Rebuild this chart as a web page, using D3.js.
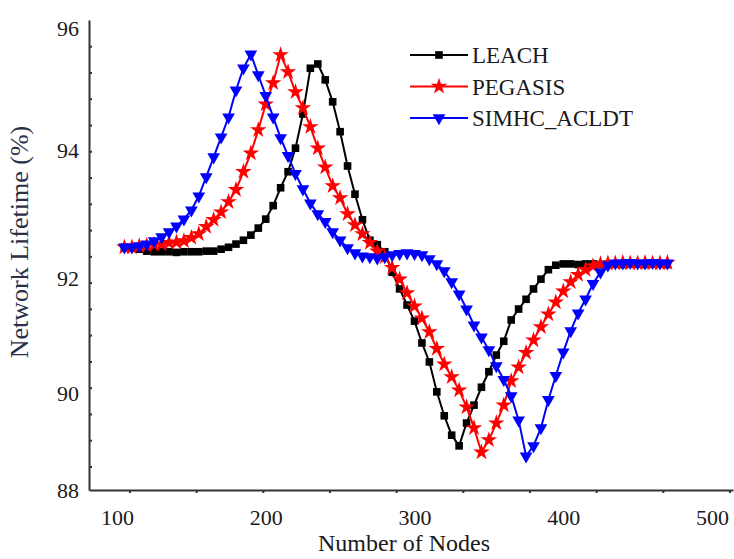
<!DOCTYPE html>
<html lang="en">
<head>
    <meta charset="UTF-8">
    <title>Network Lifetime</title>
    <style>
        body { margin: 0; background: #ffffff; }
        text { font-family: "Liberation Serif", "DejaVu Serif", serif; }
    </style>
    <script src="https://d3js.org/d3.v7.min.js"></script>
</head>
<body>
    <script>
    // number of nodes (x values)
    const nodes = [105,110,115,120,125,130,135,140,145,150,155,160,165,170,175,180,185,190,195,200,
        205,210,215,220,225,230,235,240,245,250,255,260,265,270,275,280,285,290,295,300,
        305,310,315,320,325,330,335,340,345,350,355,360,365,370,375,380,385,390,395,400,
        405,410,415,420,425,430,435,440,445,450,455,460,465,470];

    // network lifetime (%)
    const leach = [92.48,92.47,92.45,92.42,92.41,92.41,92.41,92.40,92.41,92.41,
        92.41,92.42,92.42,92.45,92.48,92.53,92.59,92.67,92.78,92.92,
        93.13,93.41,93.66,94.03,94.59,95.34,95.41,95.15,94.79,94.30,
        93.75,93.31,92.91,92.59,92.52,92.41,92.09,91.81,91.53,91.25,
        90.87,90.54,90.02,89.53,89.13,88.91,89.38,89.75,90.10,90.37,
        90.66,90.90,91.27,91.46,91.63,91.81,91.98,92.13,92.20,92.22,
        92.22,92.21,92.22,92.22,92.21,92.22,92.22,92.21,92.22,92.22,
        92.21,92.22,92.22,92.21];

    const pegasis = [92.48,92.48,92.50,92.51,92.52,92.53,92.55,92.56,92.58,92.63,
        92.69,92.80,92.91,93.03,93.19,93.38,93.66,93.95,94.33,94.75,
        95.10,95.56,95.28,94.95,94.69,94.38,94.03,93.73,93.44,93.25,
        93.00,92.83,92.69,92.55,92.42,92.33,92.16,91.98,91.74,91.51,
        91.30,91.06,90.77,90.50,90.28,90.05,89.71,89.28,88.78,89.03,
        89.38,89.75,90.21,90.45,90.70,90.92,91.15,91.37,91.58,91.77,
        91.93,92.05,92.13,92.19,92.22,92.23,92.23,92.24,92.23,92.23,
        92.24,92.23,92.23,92.24];

    const simhc = [92.48,92.48,92.50,92.53,92.58,92.64,92.72,92.81,92.92,93.06,
        93.28,93.58,93.89,94.21,94.54,94.98,95.34,95.57,95.23,94.89,
        94.54,94.20,93.91,93.63,93.39,93.17,93.00,92.88,92.72,92.59,
        92.47,92.39,92.34,92.33,92.31,92.33,92.36,92.38,92.39,92.38,
        92.36,92.30,92.22,92.11,91.93,91.72,91.46,91.18,90.97,90.75,
        90.47,90.23,89.94,89.44,88.70,88.91,89.28,89.86,90.30,90.71,
        91.08,91.39,91.63,91.90,92.09,92.20,92.23,92.23,92.24,92.23,
        92.23,92.24,92.23,92.23];

    const seriesNames = ["LEACH", "PEGASIS", "SIMHC_ACLDT"];
    const xTickValues = [100, 200, 300, 400, 500];
    const yTickValues = [88, 90, 92, 94, 96];

    const colors = ["#000000", "#ff0000", "#0000ff"];
    const shapes = [d3.symbolSquare, d3.symbolStar, d3.symbolTriangle];
    const sizes = [58, 85, 70];
    const rotate = [0, 0, 180];
    const serif = "'Liberation Serif', 'DejaVu Serif', serif";

    var svg = d3.select("body")
        .append("svg")
        .attr("width", 734)
        .attr("height", 559);

    svg.append("rect").attr("width", 734).attr("height", 559).attr("fill", "#ffffff");

    // scales (tick labels in the picture are not evenly spaced, so y is piecewise)
    var x = d3.scaleLinear().domain([81.2, 514.1]).range([89, 733]);
    var y = d3.scaleLinear()
        .domain([88, 90, 92, 94, 96, 96.13])
        .range([490, 393, 278, 150, 28, 20]);

    // small tick marks along the axes
    var xMinor = d3.scaleLinear().domain([0, 9]).range([130, 730]);
    var yMinor = d3.scaleLinear().domain([1, 17]).range([467, 46.7]);

    svg.append("g").selectAll("line")
        .data(d3.range(0, 10))
        .enter().append("line")
        .attr("x1", d => xMinor(d)).attr("x2", d => xMinor(d))
        .attr("y1", 490).attr("y2", 493)
        .attr("stroke", "#333").attr("stroke-width", 2);

    svg.append("g").selectAll("line")
        .data(d3.range(1, 18))
        .enter().append("line")
        .attr("x1", 89).attr("x2", 92)
        .attr("y1", d => yMinor(d)).attr("y2", d => yMinor(d))
        .attr("stroke", "#333").attr("stroke-width", 2);

    // axes
    var xAxis = svg.append("g")
        .attr("transform", "translate(0,490)")
        .call(d3.axisBottom(x).tickValues(xTickValues).tickSize(0).tickPadding(19).tickSizeOuter(0));

    var yAxis = svg.append("g")
        .attr("transform", "translate(89,0)")
        .call(d3.axisLeft(y).tickValues(yTickValues).tickSize(0).tickPadding(10).tickSizeOuter(0));

    [xAxis, yAxis].forEach(function (g) {
        g.select(".domain").attr("stroke", "#333").attr("stroke-width", 2);
        g.selectAll("text")
            .style("font-family", serif)
            .style("font-size", "22px")
            .attr("fill", "#1a1a1a");
    });

    // axis titles
    svg.append("text")
        .attr("x", 404)
        .attr("y", 551)
        .attr("text-anchor", "middle")
        .style("font-family", serif)
        .style("font-size", "24px")
        .attr("fill", "#1a1a1a")
        .text("Number of Nodes");

    svg.append("text")
        .attr("transform", "translate(28,242) rotate(-90)")
        .attr("text-anchor", "middle")
        .style("font-family", serif)
        .style("font-size", "26px")
        .attr("fill", "#2a2f45")
        .text("Network Lifetime (%)");

    // series
    var allSeries = [leach, pegasis, simhc];
    var line = d3.line()
        .x((d, i) => x(nodes[i]))
        .y(d => y(d));

    allSeries.forEach(function (vals, s) {
        svg.append("path")
            .datum(vals)
            .attr("d", line)
            .attr("fill", "none")
            .attr("stroke", colors[s])
            .attr("stroke-width", 2);

        svg.append("g").selectAll("path")
            .data(vals)
            .enter().append("path")
            .attr("d", d3.symbol().type(shapes[s]).size(sizes[s]))
            .attr("transform", (d, i) => "translate(" + x(nodes[i]) + "," + y(d) + ") rotate(" + rotate[s] + ")")
            .attr("fill", colors[s]);
    });

    // legend
    var legend = svg.append("g").attr("transform", "translate(410,55)");
    var items = legend.selectAll(".legend-item")
        .data(seriesNames)
        .enter().append("g")
        .attr("class", "legend-item")
        .attr("transform", (d, i) => "translate(0," + (i * 31.5) + ")");

    items.append("line")
        .attr("x1", 0).attr("x2", 58)
        .attr("stroke", (d, i) => colors[i])
        .attr("stroke-width", 2);

    items.append("path")
        .attr("d", (d, i) => d3.symbol().type(shapes[i]).size(sizes[i])())
        .attr("transform", (d, i) => "translate(29,0) rotate(" + rotate[i] + ")")
        .attr("fill", (d, i) => colors[i]);

    items.append("text")
        .attr("x", 62)
        .attr("dy", "0.35em")
        .style("font-family", serif)
        .style("font-size", "23px")
        .attr("fill", "#1a1a1a")
        .text(d => d);
    </script>
</body>
</html>
